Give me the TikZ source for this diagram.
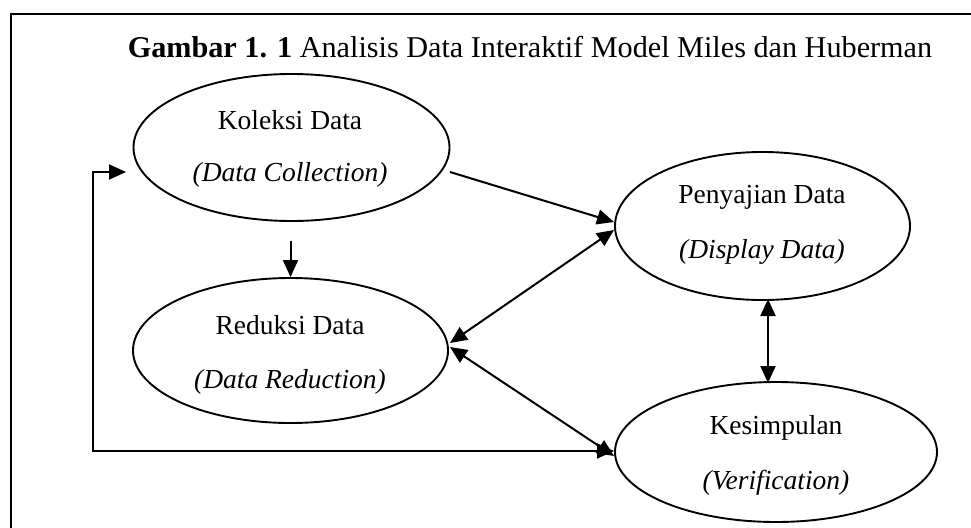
\documentclass[tikz,border=0pt]{standalone}
\usepackage{fontspec}
\setmainfont{Liberation Serif}
\usetikzlibrary{shapes.geometric,arrows.meta}
\begin{document}
\begin{tikzpicture}[x=1pt,y=-1pt,
  ell/.style={draw,line width=1.9pt,ellipse,inner sep=0pt},
  txt/.style={inner sep=0pt,font=\fontsize{27.5}{32}\selectfont},
  itx/.style={inner sep=0pt,font=\fontsize{27.5}{32}\selectfont\itshape},
  ttl/.style={inner sep=0pt,font=\fontsize{30.2}{36}\selectfont},
  tip/.tip={Triangle[length=17pt,width=15pt]},
  conn/.style={line width=2pt,-tip},
  dconn/.style={line width=2pt,tip-tip},
  frame/.style={line width=2.2pt}]
\useasboundingbox (0,0) rectangle (971,527);
% frame
\coordinate (fTR) at (972,14);
\coordinate (fTL) at (11,14);
\coordinate (fBL) at (11,528);
\draw[frame] (fTR) -- (fTL) -- (fBL);
% title
\node[ttl,anchor=base] (title) at (530,57) {\textbf{Gambar 1. 1} Analisis Data Interaktif Model Miles dan Huberman};
% ellipses
\node[ell,minimum width=316pt,minimum height=147pt] (kol) at (291.5,147.5) {};
\node[ell,minimum width=315pt,minimum height=145pt] (red) at (290.5,350.5) {};
\node[ell,minimum width=295pt,minimum height=148pt] (pen) at (762.5,226) {};
\node[ell,minimum width=322pt,minimum height=140pt] (kes) at (776,452) {};
% texts
\node[txt] (kolA) at (290,120) {Koleksi Data};
\node[itx] (kolB) at (290,175) {(Data Collection)};
\node[txt] (redA) at (290,325) {Reduksi Data};
\node[itx] (redB) at (290,382) {(Data Reduction)};
\node[txt] (penA) at (762,197) {Penyajian Data};
\node[itx] (penB) at (762,252) {(Display Data)};
\node[txt] (kesA) at (776,428) {Kesimpulan};
\node[itx] (kesB) at (776,483) {(Verification)};
% connector endpoints
\coordinate (k1) at (450,172);
\coordinate (p1) at (614,222);
\coordinate (p2) at (614,230);
\coordinate (r1) at (450,343);
\coordinate (r2) at (450,347);
\coordinate (s1) at (614,456);
\coordinate (kd) at (290.5,241);
\coordinate (pb) at (768,299);
\coordinate (st) at (768,383);
\coordinate (fb) at (126,172);
\coordinate (fe) at (614,451);
\coordinate (fc1) at (93,172);
\coordinate (fc2) at (93,451);
% connectors
\draw[conn] (k1) -- (p1);
\draw[dconn] (r1) -- (p2);
\draw[dconn] (r2) -- (s1);
\draw[conn] (kd) -- (red.north);
\draw[dconn] (pb) -- (st);
\draw[dconn] (fb) -- (fc1) -- (fc2) -- (fe);
\end{tikzpicture}
\end{document}
